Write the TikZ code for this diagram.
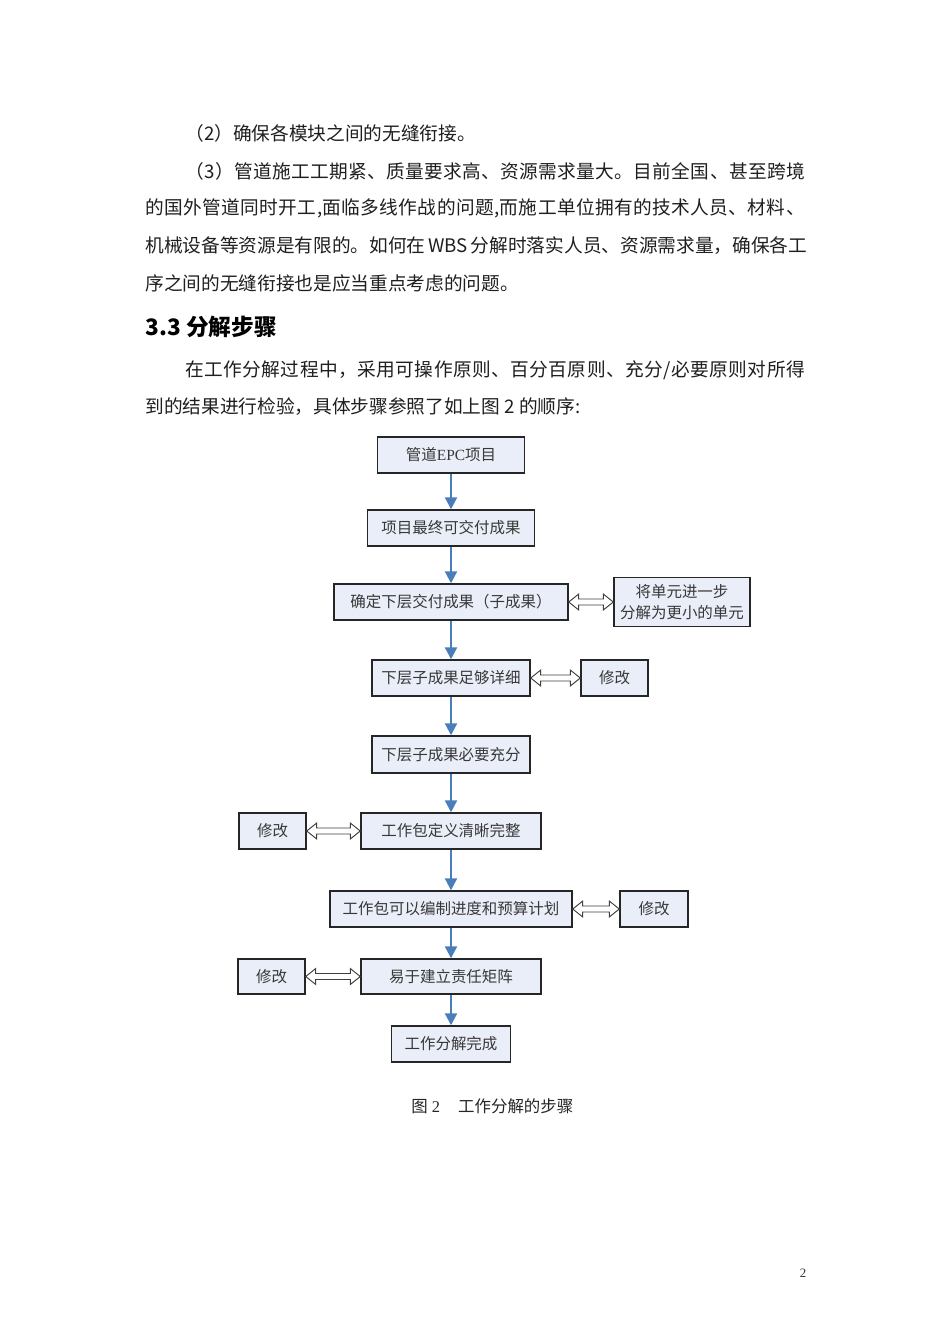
\documentclass[tikz,border=0pt]{standalone}
\usepackage{fontspec}
\setmainfont{Liberation Serif}
\newfontfamily\cjk{Noto Sans CJK SC}
\usetikzlibrary{calc,arrows.meta}
\definecolor{boxfill}{HTML}{E9EEF8}
\definecolor{arrblue}{HTML}{4A7EBB}
\def\u{0.6263pt}
\ExplSyntaxOn
\NewDocumentCommand\spreadline{mm}{\hbox~to~#1{\tl_map_inline:nn{#2}{##1\hfil}\unskip}}
\ExplSyntaxOff
\newcommand\hollowarrow[2]{%
  \draw[hollow] (#1.east) -- ++(10,-8) -- ++(0,5) -- ($(#1.east -| #2.west)+(-10,-3)$)
    -- ++(0,-5) -- (#1.east -| #2.west) -- ++(-10,8) -- ++(0,-5)
    -- ($(#1.east)+(10,3)$) -- ++(0,5) -- cycle;}
\begin{document}
\begin{tikzpicture}[x=0.6263pt,y=-0.6263pt,
  body/.style={anchor=west,inner sep=0pt,font=\cjk\fontsize{11.7pt}{14pt}\selectfont,text=black!88},
  stepbox/.style={draw=black!85,line width=0.9pt,fill=boxfill,inner sep=0pt,
    minimum height=36*\u,font=\cjk\fontsize{9.7pt}{13pt}\selectfont,text=black!78,align=center},
  bw/.style={minimum width=#1*\u},
  bh/.style={minimum height=#1*\u},
  flow/.style={draw=arrblue,line width=1.4pt,-{Triangle[length=7.5pt,width=7.5pt]}},
  hollow/.style={draw=black!75,fill=white,line width=0.6pt,line join=miter}]
\useasboundingbox (0,0) rectangle (950,1344);
\fill[white] (0,0) rectangle (950,1344);
% body text
\node[body] (t1) at (185,133) {（2）确保各模块之间的无缝衔接。};
\node[body] (t2) at (185,171) {\spreadline{388pt}{（3）管道施工工期紧、质量要求高、资源需求量大。目前全国、甚至跨境}};
\node[body] (t3) at (145,208) {\spreadline{413pt}{的国外管道同时开工,面临多线作战的问题,而施工单位拥有的技术人员、材料、}};
\node[body] (t4) at (145,246) {\spreadline{413pt}{机械设备等资源是有限的。如何在{\ }WBS{\ }分解时落实人员、资源需求量，确保各工}};
\node[body] (t5) at (145,283) {序之间的无缝衔接也是应当重点考虑的问题。};
\node[body,font=\cjk\bfseries\fontsize{14.2pt}{17pt}\selectfont,text=black] (h) at (145,327) {3.3 分解步骤};
\node[body] (t6) at (185,370) {\spreadline{388pt}{在工作分解过程中，采用可操作原则、百分百原则、充分/必要原则对所得}};
\node[body] (t7) at (145,407) {到的结果进行检验，具体步骤参照了如上图 2 的顺序:};
% flowchart
\node[stepbox,bw=147] (n1) at (451,455) {管道{\rmfamily EPC}项目};
\node[stepbox,bw=167] (n2) at (451,528) {项目最终可交付成果};
\node[stepbox,bw=234] (n3) at (451,602) {确定下层交付成果（子成果）};
\node[stepbox,bw=136,bh=49] (n4) at (682,602) {将单元进一步\\分解为更小的单元};
\node[stepbox,bw=158] (n5) at (451,678) {下层子成果足够详细};
\node[stepbox,bw=67] (n6) at (614.5,678) {修改};
\node[stepbox,bw=158,bh=37] (n7) at (451,754.5) {下层子成果必要充分};
\node[stepbox,bw=67] (n8) at (272.5,831) {修改};
\node[stepbox,bw=180] (n9) at (451,831) {工作包定义清晰完整};
\node[stepbox,bw=242] (n10) at (451,909) {工作包可以编制进度和预算计划};
\node[stepbox,bw=68] (n11) at (654,909) {修改};
\node[stepbox,bw=67,bh=35] (n12) at (271.5,976.5) {修改};
\node[stepbox,bw=180,bh=35] (n13) at (451,976.5) {易于建立责任矩阵};
\node[stepbox,bw=119] (n14) at (451,1044) {工作分解完成};
\foreach \a/\b in {n1/n2,n2/n3,n3/n5,n5/n7,n7/n9,n9/n10,n10/n13,n13/n14}
  \draw[flow] (\a.south) -- (\a.south |- \b.north);
\hollowarrow{n3}{n4}
\hollowarrow{n5}{n6}
\hollowarrow{n8}{n9}
\hollowarrow{n10}{n11}
\hollowarrow{n12}{n13}
% caption and page number
\node[anchor=west,inner sep=0pt,font=\cjk\fontsize{10.3pt}{12pt}\selectfont,text=black!85] (cap) at (411,1106) {图{\rmfamily\ 2}\hspace{1.1em}工作分解的步骤};
\node[inner sep=0pt,font=\rmfamily\fontsize{8pt}{10pt}\selectfont,text=black!80] (pg) at (803,1273) {2};
\end{tikzpicture}
\end{document}
